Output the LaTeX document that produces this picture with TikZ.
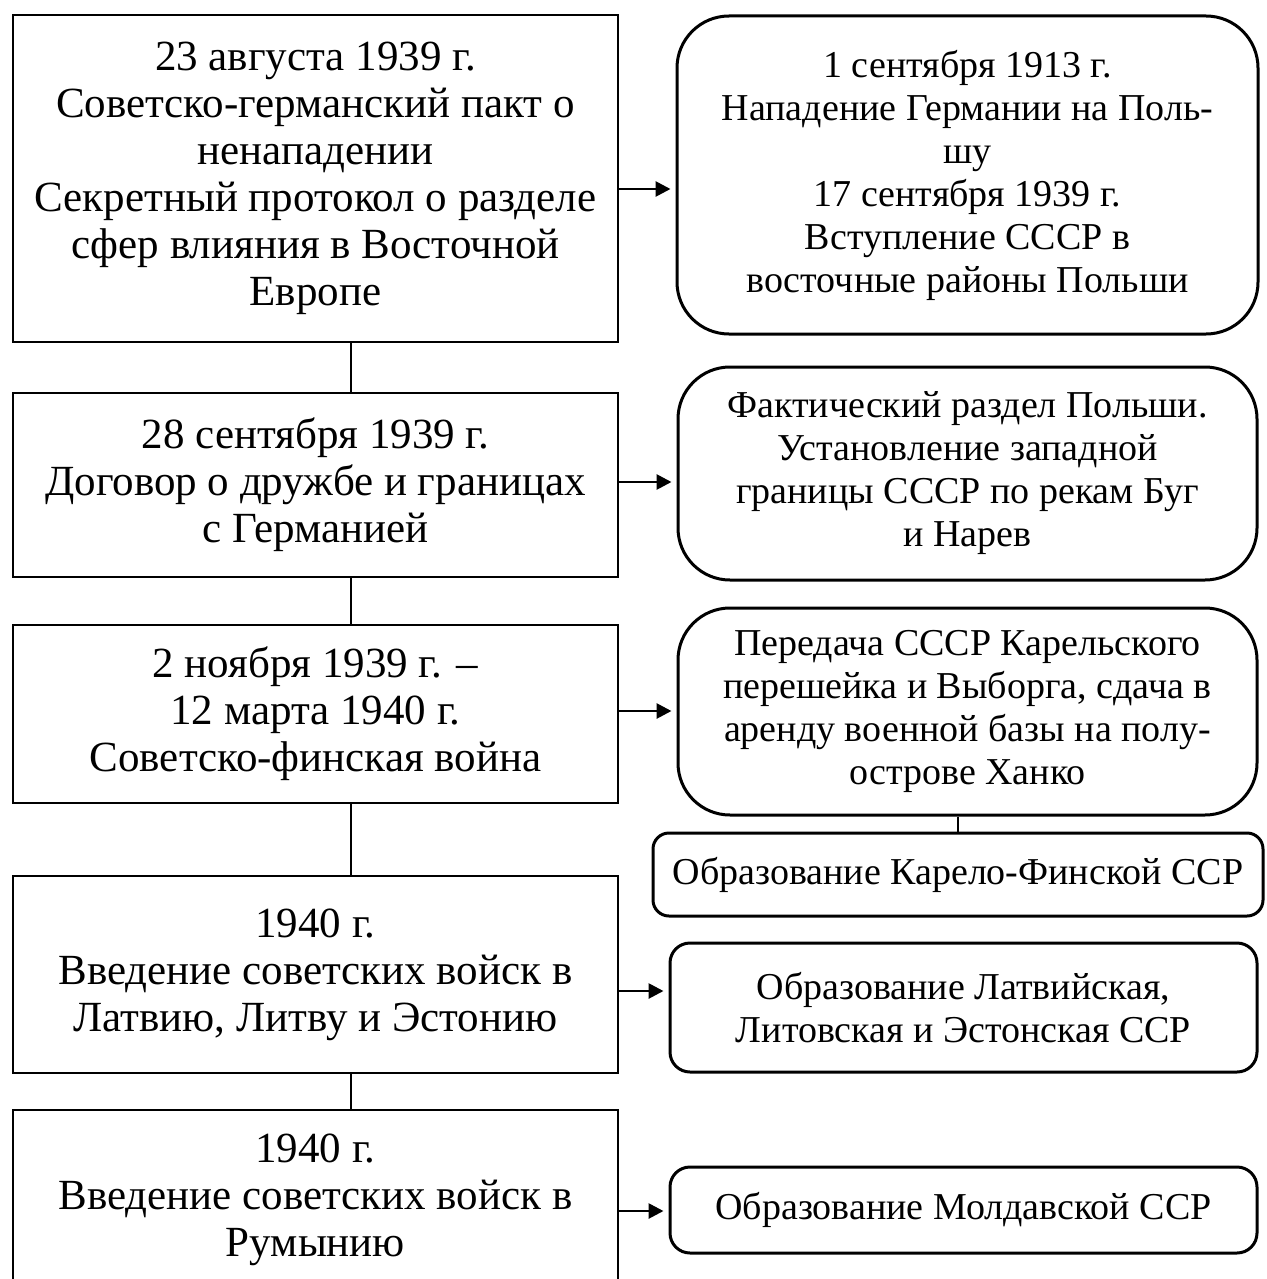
\documentclass[tikz,border=0pt]{standalone}
\usepackage{fontspec}
\setmainfont{Liberation Serif}
\usetikzlibrary{arrows.meta}
\newcommand{\lsz}{\fontsize{43}{47}\selectfont}
\newcommand{\rsz}{\fontsize{38}{43}\selectfont}
\tikzset{
  lbox/.style={draw, line width=2.8pt, rectangle, inner sep=0pt, align=center, font=\lsz},
  rbox/.style={draw, line width=3pt, rectangle, rounded corners=52pt, inner sep=0pt, align=center, font=\rsz},
  sbox/.style={rbox, rounded corners=20pt},
  arr/.style={line width=2.8pt, -{Triangle[length=15pt,width=15pt]}, shorten >=5pt},
  conn/.style={line width=2.8pt}
}
\begin{document}
\begin{tikzpicture}[x=1pt,y=-1pt]
\useasboundingbox (0,0) rectangle (1266,1279);
\clip (0,0) rectangle (1266,1279);
\fill[white] (0,0) rectangle (1266,1279);

% left column
\node[lbox, minimum width=605pt, minimum height=327pt] (L1) at (315.5,178.5)
  {23 августа 1939 г.\\Советско-германский пакт о\\ненападении\\Секретный протокол о разделе\\сфер влияния в Восточной\\Европе};
\node[lbox, minimum width=605pt, minimum height=184pt] (L2) at (315.5,485)
  {28 сентября 1939 г.\\Договор о дружбе и границах\\с Германией};
\node[lbox, minimum width=605pt, minimum height=178pt] (L3) at (315.5,714)
  {2 ноября 1939 г. –\\12 марта 1940 г.\\Советско-финская война};
\node[lbox, minimum width=605pt, minimum height=197pt] (L4) at (315.5,974.5)
  {1940 г.\\Введение советских войск в\\Латвию, Литву и Эстонию};
\node[lbox, minimum width=605pt, minimum height=180pt] (L5) at (315.5,1200)
  {1940 г.\\Введение советских войск в\\Румынию};

% right column
\node[rbox, minimum width=581pt, minimum height=318pt] (R1) at (967.5,175)
  {1 сентября 1913 г.\\Нападение Германии на Поль-\\шу\\17 сентября 1939 г.\\Вступление СССР в\\восточные районы Польши};
\node[rbox, minimum width=579pt, minimum height=213pt] (R2) at (967.5,473.5)
  {Фактический раздел Польши.\\Установление западной\\границы СССР по рекам Буг\\и Нарев};
\node[rbox, minimum width=579pt, minimum height=207pt] (R3) at (967.5,711.5)
  {Передача СССР Карельского\\перешейка и Выборга, сдача в\\аренду военной базы на полу-\\острове Ханко};
\node[sbox, rounded corners=16pt, minimum width=610pt, minimum height=83pt] (R4) at (958,874.5)
  {Образование Карело-Финской ССР};
\node[sbox, minimum width=587pt, minimum height=129pt] (R5) at (963.5,1007.5)
  {Образование Латвийская,\\Литовская и Эстонская ССР};
\node[sbox, minimum width=587pt, minimum height=86pt] (R6) at (963.5,1210)
  {Образование Молдавской ССР};

% helper coordinates
\coordinate (cx) at (351,0);
\coordinate (a1) at (0,189);
\coordinate (a2) at (0,482);
\coordinate (a3) at (0,711);
\coordinate (a4) at (0,991);
\coordinate (a5) at (0,1211);

% vertical connectors
\draw[conn] (L1.south -| cx) -- (L2.north -| cx);
\draw[conn] (L2.south -| cx) -- (L3.north -| cx);
\draw[conn] (L3.south -| cx) -- (L4.north -| cx);
\draw[conn] (L4.south -| cx) -- (L5.north -| cx);
\draw[conn] (R3.south -| R4.north) -- (R4.north);

% arrows
\draw[arr] (L1.east |- a1) -- (R1.west |- a1);
\draw[arr] (L2.east |- a2) -- (R2.west |- a2);
\draw[arr] (L3.east |- a3) -- (R3.west |- a3);
\draw[arr] (L4.east |- a4) -- (R5.west |- a4);
\draw[arr] (L5.east |- a5) -- (R6.west |- a5);
\end{tikzpicture}
\end{document}
